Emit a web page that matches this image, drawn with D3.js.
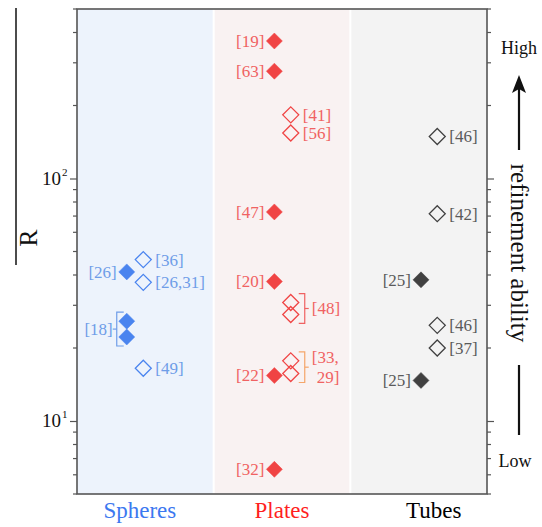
<!DOCTYPE html>
<html><head><meta charset="utf-8">
<script src="https://cdn.jsdelivr.net/npm/d3@7"></script>
<style>html,body{margin:0;padding:0;background:#fff;}svg{display:block;}
svg text{font-family:"Liberation Serif","Times New Roman","DejaVu Serif",serif;}</style>
</head><body>
<svg id="chart" width="542" height="527"></svg>
<script>
// ---------- data ----------
const categories = ["Spheres", "Plates", "Tubes"];
const sphereValues = [41.2, 46.3, 37.3, 25.8, 22.2, 16.5];
const sphereFilled = [true, false, false, true, true, false];
const sphereRefs   = ["[26]", "[36]", "[26,31]", null, null, "[49]"];
const plateValues  = [369, 277, 183, 154, 72.8, 37.6, 30.8, 27.5, 15.4, 17.7, 15.7, 6.32];
const plateFilled  = [true, true, false, false, true, true, false, false, true, false, false, true];
const plateRefs    = ["[19]", "[63]", "[41]", "[56]", "[47]", "[20]", null, null, "[22]", null, null, "[32]"];
const tubeValues   = [149, 71.6, 38.2, 24.8, 20.0, 14.7];
const tubeFilled   = [false, false, true, false, false, true];
const tubeRefs     = ["[46]", "[42]", "[25]", "[46]", "[37]", "[25]"];
// bracketed groups: category index, member indices, label lines
const groupCats    = [0, 1, 1];
const groupMembers = [[3, 4], [6, 7], [9, 10]];
const groupLabels  = [["[18]"], ["[48]"], ["[33,", "29]"]];
const yDomain = [5, 500];
const yTickValues = [10, 100];
const annotHigh = "High", annotLow = "Low", annotText = "refinement ability";

// ---------- layout / style ----------
const svg = d3.select("#chart");
const L = 77, R = 487, T = 9, B = 494;
const markerColor = ["#4a84ef", "#f04444", "#404040"];
const labelColor  = ["#6f9de8", "#f06262", "#5a5a5a"];
const catColor    = ["#3c78f0", "#ff1f1f", "#000000"];
const bgColor     = ["#edf3fc", "#f9f2f2", "#f3f3f3"];
const groupColor  = ["#6f9de8", "#f06262", "#f5a66a"];
const groupSide   = ["left", "right", "right"];
const markerOffset = [[-0.136, -0.015], [-0.056, 0.064], [0.017, 0.136]];
const catLabelOffset = [-0.04, 0.0, 0.11];

const series = [
  {values: sphereValues, filled: sphereFilled, refs: sphereRefs},
  {values: plateValues, filled: plateFilled, refs: plateRefs},
  {values: tubeValues, filled: tubeFilled, refs: tubeRefs}
];

const x = d3.scaleLinear().domain([0, categories.length]).range([L, R]);
const y = d3.scaleLog().domain(yDomain).range([B, T]);

// backgrounds
svg.selectAll("rect.bg").data(categories).join("rect")
  .attr("x", (d, i) => x(i) + (i > 0 ? 1 : 0))
  .attr("y", T)
  .attr("width", (d, i) => x(i + 1) - x(i) - (i > 0 ? 1 : 0) - (i < categories.length - 1 ? 1 : 0))
  .attr("height", B - T)
  .attr("fill", (d, i) => bgColor[i]);

// axes
const minorTicks = [];
for (let e = 0; e <= 2; e++) for (let m = 1; m <= 9; m++) {
  const v = m * Math.pow(10, e);
  if (v >= yDomain[0] && v <= yDomain[1] && !yTickValues.includes(v)) minorTicks.push(v);
}
function drawAxis(g, side) {
  const dir = side === "left" ? -1 : 1;
  const ax = (side === "left" ? d3.axisLeft(y) : d3.axisRight(y))
    .tickValues(yTickValues).tickSize(7).tickFormat("");
  g.call(ax);
  g.select(".domain").remove();
  g.selectAll(".tick line").attr("stroke", "#555").attr("stroke-width", 1.2);
  g.selectAll("line.minor").data(minorTicks).join("line").attr("class", "minor")
    .attr("x1", 0).attr("x2", dir * 4)
    .attr("y1", d => y(d)).attr("y2", d => y(d))
    .attr("stroke", "#555").attr("stroke-width", 1.2);
}
const gl = svg.append("g").attr("transform", `translate(${L},0)`);
drawAxis(gl, "left");
const gr = svg.append("g").attr("transform", `translate(${R},0)`);
drawAxis(gr, "right");

// tick labels 10^k
yTickValues.forEach(v => {
  svg.append("text").attr("x", 61).attr("y", y(v) + 6)
    .attr("text-anchor", "end").attr("font-size", 19).attr("fill", "#111").text(10);
  svg.append("text").attr("x", 62).attr("y", y(v) - 3)
    .attr("font-size", 11).attr("fill", "#111")
    .text(Math.round(Math.log10(v)));
});

// frame
svg.append("rect").attr("x", L).attr("y", T).attr("width", R - L).attr("height", B - T)
  .attr("fill", "none").attr("stroke", "#555").attr("stroke-width", 1.6);

// y axis title with overline bar
svg.append("line").attr("x1", 16).attr("x2", 16).attr("y1", 8).attr("y2", 265)
  .attr("stroke", "#111").attr("stroke-width", 1.5);
svg.append("text").attr("transform", "translate(37,238) rotate(-90)")
  .attr("text-anchor", "middle").attr("font-size", 26).attr("fill", "#111")
  .text("R");

// markers
const H = 8;
const diamond = `M0,${-H}L${H},0L0,${H}L${-H},0Z`;
function px(ci, filled) { return x(ci + 0.5 + markerOffset[ci][filled ? 0 : 1]); }

series.forEach((s, ci) => {
  const pts = s.values.map((v, i) => ({v, filled: s.filled[i], ref: s.refs[i]}));
  const g = svg.append("g");
  g.selectAll("path").data(pts).join("path")
    .attr("d", diamond)
    .attr("transform", d => `translate(${px(ci, d.filled)},${y(d.v)})`)
    .attr("fill", d => d.filled ? markerColor[ci] : "none")
    .attr("stroke", markerColor[ci])
    .attr("stroke-width", d => d.filled ? 0.5 : 1.3);
  g.selectAll("text").data(pts.filter(d => d.ref)).join("text")
    .attr("x", d => d.filled ? px(ci, true) - 10 : px(ci, false) + 12)
    .attr("y", d => y(d.v))
    .attr("dy", "0.35em")
    .attr("text-anchor", d => d.filled ? "end" : "start")
    .attr("font-size", 17)
    .attr("fill", labelColor[ci])
    .text(d => d.ref);
});

// bracket groups
groupCats.forEach((ci, gi) => {
  const s = series[ci];
  const mem = groupMembers[gi];
  const vals = mem.map(i => s.values[i]);
  const filled = s.filled[mem[0]];
  const cx = px(ci, filled);
  const y0 = y(d3.max(vals)) - H - 1, y1 = y(d3.min(vals)) + H + 1;
  const ym = (y0 + y1) / 2;
  const col = groupColor[gi];
  const side = groupSide[gi];
  const bx = side === "left" ? cx - 10 : cx + 14;
  const sx = side === "left" ? cx - 3 : cx + 8;
  const g = svg.append("g").attr("fill", "none").attr("stroke", col).attr("stroke-width", 1.2);
  g.append("path").attr("d", `M${sx},${y0}H${bx}V${y1}H${sx}`);
  const tx = side === "left" ? bx - 4 : bx + 4;
  g.append("line").attr("x1", bx).attr("x2", tx).attr("y1", ym).attr("y2", ym);
  const lines = groupLabels[gi];
  lines.forEach((ln, li) => {
    svg.append("text")
      .attr("x", side === "left" ? tx : tx + 3 + li * 5)
      .attr("y", ym + (li - (lines.length - 1) / 2) * 20)
      .attr("dy", "0.35em")
      .attr("text-anchor", side === "left" ? "end" : "start")
      .attr("font-size", 17)
      .attr("fill", labelColor[ci]).text(ln);
  });
});

// category labels
svg.selectAll("text.cat").data(categories).join("text").attr("class", "cat")
  .attr("x", (d, i) => x(i + 0.5 + catLabelOffset[i]))
  .attr("y", 518)
  .attr("text-anchor", "middle").attr("font-size", 23)
  .attr("fill", (d, i) => catColor[i]).text(d => d);

// right annotation
const ax = 519;
svg.append("text").attr("x", ax).attr("y", 54).attr("text-anchor", "middle")
  .attr("font-size", 18).attr("fill", "#111").text(annotHigh);
svg.append("line").attr("x1", ax).attr("x2", ax).attr("y1", 150).attr("y2", 88)
  .attr("stroke", "#111").attr("stroke-width", 2.2);
svg.append("path").attr("d", `M${ax},75L${ax - 7},93L${ax},89L${ax + 7},93Z`).attr("fill", "#111");
svg.append("text").attr("transform", `translate(${ax - 8},253) rotate(90)`)
  .attr("text-anchor", "middle").attr("font-size", 25).attr("fill", "#111")
  .text(annotText);
svg.append("line").attr("x1", ax).attr("x2", ax).attr("y1", 365).attr("y2", 435)
  .attr("stroke", "#111").attr("stroke-width", 2.2);
svg.append("text").attr("x", ax - 4).attr("y", 467).attr("text-anchor", "middle")
  .attr("font-size", 18).attr("fill", "#111").text(annotLow);
</script>
</body></html>
